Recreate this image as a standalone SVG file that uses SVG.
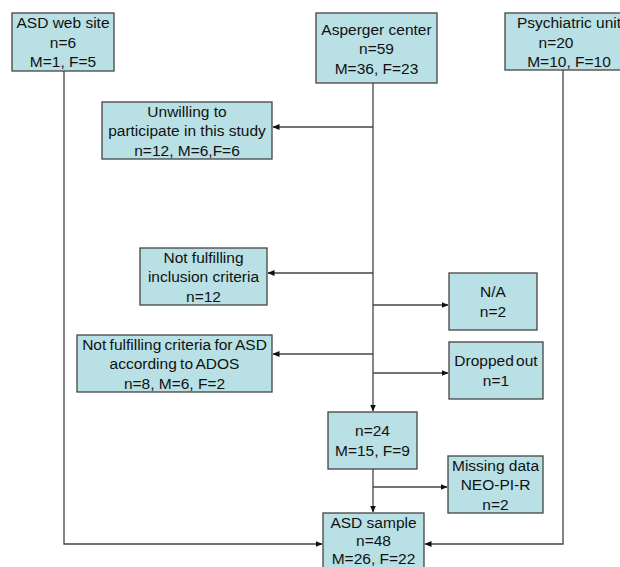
<svg xmlns="http://www.w3.org/2000/svg" width="620" height="567" viewBox="0 0 620 567">
<defs>
<marker id="ah" markerWidth="7" markerHeight="6" refX="6.5" refY="3" orient="auto" markerUnits="userSpaceOnUse">
<path d="M0,0 L7,3 L0,6 Z" fill="#111"/>
</marker>
</defs>
<style>
rect{fill:#b9e0e4;stroke:#444;stroke-width:1.3}
text{font-family:"Liberation Sans",Arial,sans-serif;font-size:15.5px;fill:#111;text-anchor:middle}
.c path{fill:none;stroke:#444;stroke-width:1.3}
</style>
<rect x="0" y="0" width="620" height="567" style="fill:#fff;stroke:none"/>
<g class="c" id="connectors">
<path d="M373,83 V411" marker-end="url(#ah)"/>
<path d="M373,469 V512" marker-end="url(#ah)"/>
<path d="M373,127 H273" marker-end="url(#ah)"/>
<path d="M373,273 H268" marker-end="url(#ah)"/>
<path d="M373,305 H448" marker-end="url(#ah)"/>
<path d="M373,354 H273" marker-end="url(#ah)"/>
<path d="M373,373 H448" marker-end="url(#ah)"/>
<path d="M373,487 H447" marker-end="url(#ah)"/>
<path d="M64,71 V544 H322" marker-end="url(#ah)"/>
<path d="M563,70 V544 H425" marker-end="url(#ah)"/>
</g>
<g id="web"><rect x="12" y="13" width="102" height="58"/><text x="63" y="28">ASD web site</text><text x="63" y="47.5">n=6</text><text x="63" y="67">M=1, F=5</text></g>
<g id="asperger"><rect x="316" y="13" width="121" height="70"/><text x="376.5" y="34.5">Asperger center</text><text x="376.5" y="54">n=59</text><text x="376.5" y="73.5">M=36, F=23</text></g>
<g id="psych"><rect x="505" y="13" width="125" height="57"/><text x="569" y="28">Psychiatric unit</text><text x="556" y="47.5">n=20</text><text x="569" y="67">M=10, F=10</text></g>
<g id="unwilling"><rect x="102" y="102" width="170" height="57"/><text x="187" y="116.5">Unwilling to</text><text x="187" y="136">participate in this study</text><text x="187" y="155.5">n=12, M=6,F=6</text></g>
<g id="inclusion"><rect x="140" y="248" width="127" height="57"/><text x="203.5" y="262.5">Not fulfilling</text><text x="203.5" y="282">inclusion criteria</text><text x="203.5" y="301.5">n=12</text></g>
<g id="na"><rect x="449" y="273" width="88" height="57"/><text x="493" y="297">N/A</text><text x="493" y="316.5">n=2</text></g>
<g id="ados"><rect x="77" y="335" width="195" height="57"/><text x="174.5" y="349.5" style="word-spacing:-1px">Not fulfilling criteria for ASD</text><text x="174.5" y="369" style="word-spacing:-1px">according to ADOS</text><text x="174.5" y="388.5">n=8, M=6, F=2</text></g>
<g id="dropped"><rect x="449" y="342" width="94" height="57"/><text x="496" y="366" style="word-spacing:-2px">Dropped out</text><text x="496" y="385.5">n=1</text></g>
<g id="n24"><rect x="328" y="412" width="89" height="57"/><text x="372.5" y="436">n=24</text><text x="372.5" y="455.5">M=15, F=9</text></g>
<g id="missing"><rect x="448" y="456" width="95" height="57"/><text x="495.5" y="470.5">Missing data</text><text x="495.5" y="490">NEO-PI-R</text><text x="495.5" y="509.5">n=2</text></g>
<g id="sample"><rect x="323" y="513" width="101" height="60"/><text x="373.5" y="527.5">ASD sample</text><text x="373.5" y="546">n=48</text><text x="373.5" y="563.5">M=26, F=22</text></g>
</svg>
